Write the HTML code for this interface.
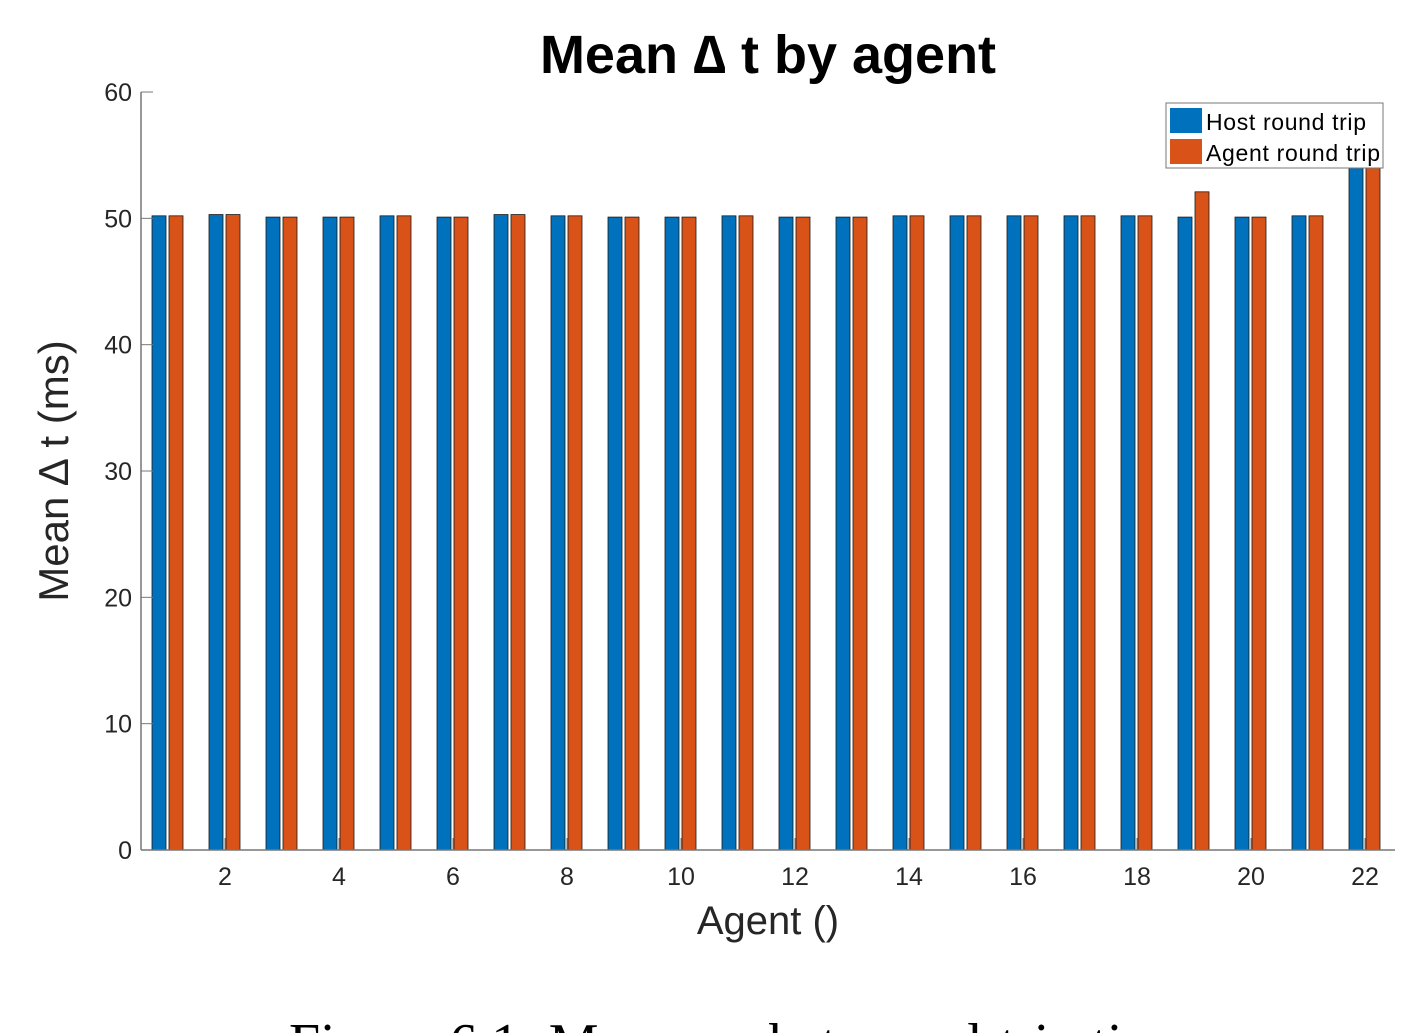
<!DOCTYPE html>
<html><head><style>
body{margin:0;background:#fff;width:1425px;height:1033px;overflow:hidden;position:relative;font-family:"Liberation Sans",sans-serif}
</style></head><body>
<svg id="s" width="1425" height="1033" xmlns="http://www.w3.org/2000/svg" style="position:absolute;left:0;top:0">
<text x="768" y="73" font-size="54" font-weight="bold" text-anchor="middle" font-family="Liberation Sans,sans-serif">Mean ∆ t by agent</text>
<g id="bars"></g>
<line x1="141" y1="92" x2="141" y2="850" stroke="#777" stroke-width="1.5"/>
<line x1="141" y1="850" x2="1395" y2="850" stroke="#777" stroke-width="1.5"/>
<g id="ticks" font-size="25" fill="#262626" font-family="Liberation Sans,sans-serif"></g>
<text x="768" y="934" font-size="40" text-anchor="middle" fill="#262626">Agent ()</text>
<text transform="translate(68,471) rotate(-90)" font-size="42" text-anchor="middle" fill="#262626">Mean ∆ t (ms)</text>
<rect x="1166" y="103" width="217" height="65" fill="#fff" stroke="#777" stroke-width="1"/>
<rect x="1170" y="108" width="32" height="25" fill="#0072bd"/>
<rect x="1170" y="139" width="32" height="25" fill="#d95319"/>
<text x="1206" y="130" font-size="23" fill="#000" textLength="160">Host round trip</text>
<text x="1206" y="161" font-size="23" fill="#000" textLength="174">Agent round trip</text>
<text x="740" y="1062" font-size="56" text-anchor="middle" font-family="Liberation Serif,serif">Figure 6.1: Mean packet round-trip time</text>
</svg>
<script>
const ns="http://www.w3.org/2000/svg";
const b=document.getElementById('bars'),t=document.getElementById('ticks');
const X=a=>168+(a-1)*57,Y=v=>850-v*12.633;
const h=[50.2,50.3,50.1,50.1,50.2,50.1,50.3,50.2,50.1,50.1,50.2,50.1,50.1,50.2,50.2,50.2,50.2,50.2,50.1,50.1,50.2,56];
const g=[50.2,50.3,50.1,50.1,50.2,50.1,50.3,50.2,50.1,50.1,50.2,50.1,50.1,50.2,50.2,50.2,50.2,50.2,52.1,50.1,50.2,56];
function r(x,y,w,hh,f){const e=document.createElementNS(ns,'rect');e.setAttribute('x',x);e.setAttribute('y',y);e.setAttribute('width',w);e.setAttribute('height',hh);e.setAttribute('fill',f);e.setAttribute('stroke','#1a1a1a');e.setAttribute('stroke-width','0.8');b.appendChild(e);}
for(let i=0;i<22;i++){const c=X(i+1);r(c-16,Y(h[i]),14,850-Y(h[i]),'#0072bd');r(c+1,Y(g[i]),14,850-Y(g[i]),'#d95319');}
function tx(x,y,s,a){const e=document.createElementNS(ns,'text');e.setAttribute('x',x);e.setAttribute('y',y);e.setAttribute('text-anchor',a);e.textContent=s;t.appendChild(e);}
function ln(x1,y1,x2,y2){const e=document.createElementNS(ns,'line');e.setAttribute('x1',x1);e.setAttribute('y1',y1);e.setAttribute('x2',x2);e.setAttribute('y2',y2);e.setAttribute('stroke','#777');t.appendChild(e);}
for(let v=0;v<=60;v+=10){const y=Y(v);tx(132,y+9,v,'end');ln(141,y,153,y);}
for(let a=2;a<=22;a+=2){const x=X(a);tx(x,885,a,'middle');ln(x,850,x,838);}
</script>
</body></html>
